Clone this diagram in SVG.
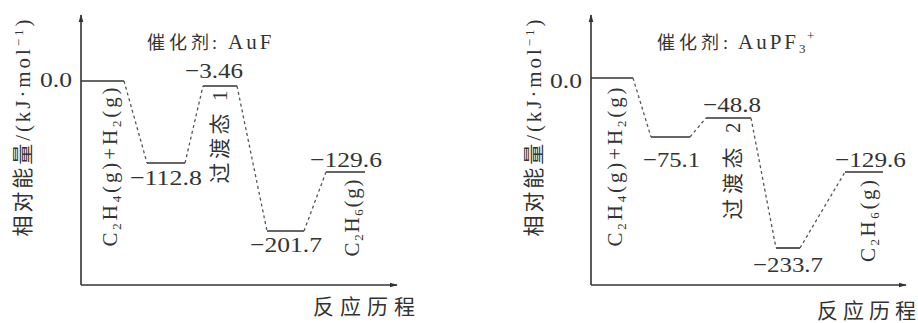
<svg xmlns="http://www.w3.org/2000/svg" width="918" height="323" viewBox="0 0 918 323" font-family="'Liberation Serif', 'Noto Sans CJK SC', serif">
<defs>
<style>
text{fill:#333;}
.num{font-size:22px;}
.cap{font-size:18px;}
.rot{font-size:21px;}
.lvl{stroke:#333;stroke-width:1.6;fill:none;}
.dash{stroke:#555;stroke-width:1.3;stroke-dasharray:3 3;fill:none;}
.axis{stroke:#333;stroke-width:1.6;fill:none;}
.s{font-size:13px;}
</style>
<marker id="arr" viewBox="0 0 10 10" refX="9" refY="5" markerWidth="8" markerHeight="8" orient="auto" markerUnits="userSpaceOnUse">
<path d="M0,2 L10,5 L0,8 Z" fill="#333"/>
</marker>
</defs>
<rect width="918" height="323" fill="#fff"/>

<!-- Left panel -->
<g id="axes-left">
<line class="axis" x1="81" y1="285" x2="81" y2="15" marker-end="url(#arr)"/>
<line class="axis" x1="81" y1="285" x2="397" y2="285" marker-end="url(#arr)"/>
<text class="rot" transform="translate(23,128) rotate(-90)" text-anchor="middle" dy="0.35em" textLength="217" lengthAdjust="spacing">相对能量/(kJ·mol<tspan class="s" dy="-7">−1</tspan><tspan dy="7">)</tspan></text>
<text x="313" y="314" font-size="21" textLength="102" lengthAdjust="spacing">反应历程</text>
<text class="cap" y="49"><tspan x="147">催</tspan><tspan x="169">化</tspan><tspan x="191">剂</tspan><tspan x="212">:</tspan><tspan x="228" font-size="21" letter-spacing="3">AuF</tspan></text>
</g>
<g id="L-reactant">
<line class="lvl" x1="81" y1="81" x2="124" y2="81"/>
<text class="num" x="40" y="87" textLength="32" lengthAdjust="spacingAndGlyphs">0.0</text>
<text class="rot" transform="translate(110,167) rotate(-90)" text-anchor="middle" dy="0.35em" textLength="159" lengthAdjust="spacing">C<tspan class="s" dy="4">2</tspan><tspan dy="-4">H</tspan><tspan class="s" dy="4">4</tspan><tspan dy="-4">(g)+H</tspan><tspan class="s" dy="4">2</tspan><tspan dy="-4">(g)</tspan></text>
</g>
<g id="L-int1">
<line class="lvl" x1="147" y1="163" x2="185" y2="163"/>
<text class="num" x="130" y="185" textLength="72" lengthAdjust="spacingAndGlyphs">−112.8</text>
</g>
<g id="L-ts1">
<line class="lvl" x1="203" y1="86" x2="237" y2="86"/>
<text class="num" x="185" y="78" textLength="58" lengthAdjust="spacingAndGlyphs">−3.46</text>
<text class="rot" transform="translate(220,137) rotate(-90)" text-anchor="middle" dy="0.35em" textLength="93" lengthAdjust="spacing">过渡态 1</text>
</g>
<g id="L-int2">
<line class="lvl" x1="267" y1="231" x2="304" y2="231"/>
<text class="num" x="250" y="252" textLength="72" lengthAdjust="spacingAndGlyphs">−201.7</text>
</g>
<g id="L-product">
<line class="lvl" x1="326" y1="172" x2="365" y2="172"/>
<text class="num" x="310" y="167" textLength="72" lengthAdjust="spacingAndGlyphs">−129.6</text>
<text class="rot" transform="translate(352,218) rotate(-90)" text-anchor="middle" dy="0.35em" textLength="77" lengthAdjust="spacing">C<tspan class="s" dy="4">2</tspan><tspan dy="-4">H</tspan><tspan class="s" dy="4">6</tspan><tspan dy="-4">(g)</tspan></text>
</g>

<!-- Right panel -->
<g id="axes-right">
<line class="axis" x1="591" y1="285" x2="591" y2="15" marker-end="url(#arr)"/>
<line class="axis" x1="591" y1="285" x2="906" y2="285" marker-end="url(#arr)"/>
<text class="rot" transform="translate(534,128) rotate(-90)" text-anchor="middle" dy="0.35em" textLength="217" lengthAdjust="spacing">相对能量/(kJ·mol<tspan class="s" dy="-7">−1</tspan><tspan dy="7">)</tspan></text>
<text x="817" y="318" font-size="21" textLength="99" lengthAdjust="spacing">反应历程</text>
<text class="cap" y="49"><tspan x="657">催</tspan><tspan x="679">化</tspan><tspan x="701">剂</tspan><tspan x="723">:</tspan><tspan x="738" font-size="21" letter-spacing="3">AuPF</tspan><tspan class="s" x="799" dy="4">3</tspan><tspan class="s" x="807" dy="-13">+</tspan></text>
</g>
<g id="R-reactant">
<line class="lvl" x1="591" y1="78" x2="633" y2="78"/>
<text class="num" x="550" y="88" textLength="32" lengthAdjust="spacingAndGlyphs">0.0</text>
<text class="rot" transform="translate(615,167) rotate(-90)" text-anchor="middle" dy="0.35em" textLength="159" lengthAdjust="spacing">C<tspan class="s" dy="4">2</tspan><tspan dy="-4">H</tspan><tspan class="s" dy="4">4</tspan><tspan dy="-4">(g)+H</tspan><tspan class="s" dy="4">2</tspan><tspan dy="-4">(g)</tspan></text>
</g>
<g id="R-int1">
<line class="lvl" x1="651" y1="137" x2="690" y2="137"/>
<text class="num" x="643" y="167" textLength="57" lengthAdjust="spacingAndGlyphs">−75.1</text>
</g>
<g id="R-ts2">
<line class="lvl" x1="706" y1="118" x2="751" y2="118"/>
<text class="num" x="703" y="112" textLength="58" lengthAdjust="spacingAndGlyphs">−48.8</text>
<text class="rot" transform="translate(733,171) rotate(-90)" text-anchor="middle" dy="0.35em" textLength="97" lengthAdjust="spacing">过渡态 2</text>
</g>
<g id="R-int2">
<line class="lvl" x1="776" y1="248" x2="800" y2="248"/>
<text class="num" x="753" y="272" textLength="70" lengthAdjust="spacingAndGlyphs">−233.7</text>
</g>
<g id="R-product">
<line class="lvl" x1="845" y1="172" x2="883" y2="172"/>
<text class="num" x="835" y="167" textLength="71" lengthAdjust="spacingAndGlyphs">−129.6</text>
<text class="rot" transform="translate(868,221) rotate(-90)" text-anchor="middle" dy="0.35em" textLength="82" lengthAdjust="spacing">C<tspan class="s" dy="4">2</tspan><tspan dy="-4">H</tspan><tspan class="s" dy="4">6</tspan><tspan dy="-4">(g)</tspan></text>
</g>

<g id="connectors">
<path class="dash" d="M124,81 L147,163"/>
<path class="dash" d="M185,163 L203,86"/>
<path class="dash" d="M237,86 L267,231"/>
<path class="dash" d="M304,231 L326,172"/>
<path class="dash" d="M633,78 L651,137"/>
<path class="dash" d="M690,137 L706,118"/>
<path class="dash" d="M751,118 L776,248"/>
<path class="dash" d="M800,248 L845,172"/>
</g>
</svg>
